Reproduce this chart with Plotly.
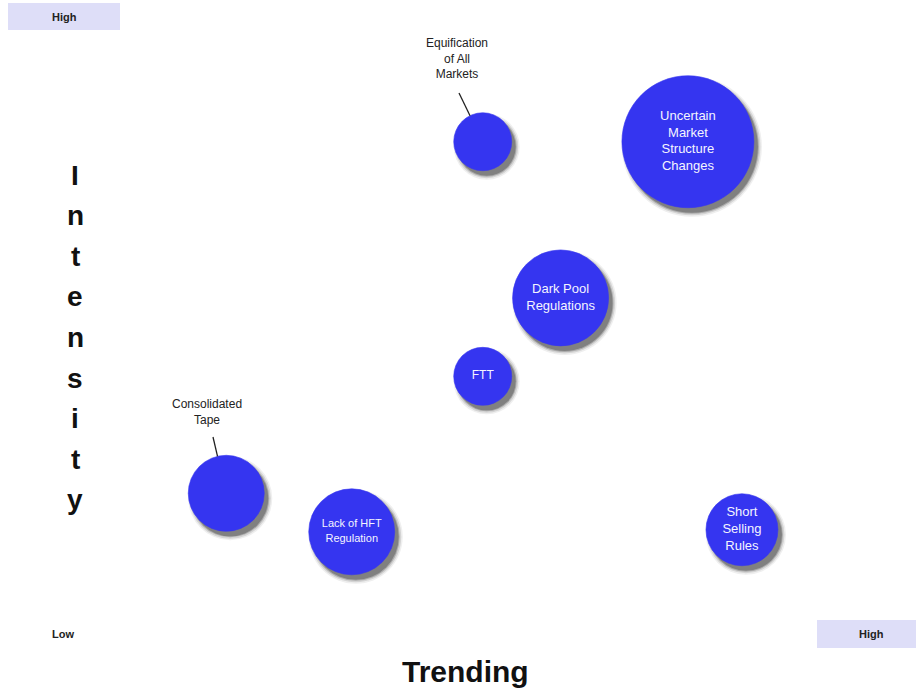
import math
import plotly.graph_objects as go

W, H = 916, 688

# Issues plotted by how much they are trending (x) and their intensity (y), 0-100 scale
topics = [
    "Equification of All Markets",
    "Uncertain Market Structure Changes",
    "Dark Pool Regulations",
    "FTT",
    "Consolidated Tape",
    "Lack of HFT Regulation",
    "Short Selling Rules",
]
trending = [52.7, 75.1, 61.2, 52.7, 24.7, 38.4, 81.0]
intensity = [79.4, 79.4, 56.7, 45.3, 28.3, 22.7, 23.0]
impact = [58, 132, 96, 58, 76, 86, 72]  # bubble diameter

inner_labels = [
    "",
    "Uncertain<br>Market<br>Structure<br>Changes",
    "Dark Pool<br>Regulations",
    "FTT",
    "",
    "Lack of HFT<br>Regulation",
    "Short<br>Selling<br>Rules",
]
inner_font = [13, 13, 13, 12, 13, 11, 13]

# Bubbles whose names sit outside, joined by a leader line
callouts = {
    0: "Equification<br>of All<br>Markets",
    4: "Consolidated<br>Tape",
}

BLUE = "#3535F0"
FONT = "Liberation Sans, Arial, sans-serif"


def px_to_x(px):
    return px / W * 100


def px_to_y(py):
    return (1 - py / H) * 100


def x_to_px(v):
    return v / 100 * W


def y_to_px(v):
    return (1 - v / 100) * H


fig = go.Figure()

# soft drop shadow: stacked translucent grey discs offset down-right
dx, dy = 4, 5
for grow, op in [(8, 0.08), (5, 0.14), (2, 0.25), (0, 0.35)]:
    fig.add_trace(go.Scatter(
        x=[px_to_x(x_to_px(t) + dx) for t in trending],
        y=[px_to_y(y_to_px(v) + dy) for v in intensity],
        mode="markers",
        marker=dict(size=[s + grow for s in impact], sizemode="diameter",
                    color="#303030", opacity=op, line=dict(width=0)),
        hoverinfo="skip", showlegend=False,
    ))

fig.add_trace(go.Scatter(
    x=trending, y=intensity,
    mode="markers+text",
    marker=dict(size=impact, sizemode="diameter", color=BLUE, opacity=1,
                line=dict(width=1, color="rgba(53,53,240,0.6)")),
    text=inner_labels,
    textposition="middle center",
    textfont=dict(family=FONT, size=inner_font, color="#f4f4ff"),
    hovertext=topics, hoverinfo="text",
    showlegend=False,
))

shapes = []
annotations = []


def label(x, y, text, size, ref="paper", color="#222222"):
    annotations.append(dict(x=x, y=y, xref=ref, yref=ref, text=text,
                            showarrow=False, xanchor="center", yanchor="middle",
                            font=dict(family=FONT, size=size, color=color)))


# leader lines and outside labels
label_pos = {0: (457, 58, 459, 93), 4: (207, 412, 213, 437)}
for i, text in callouts.items():
    lx, ly, sx, sy = label_pos[i]
    cx, cy = x_to_px(trending[i]), y_to_px(intensity[i])
    r = impact[i] / 2
    vx, vy = sx - cx, sy - cy
    d = math.hypot(vx, vy)
    ex, ey = cx + vx / d * r, cy + vy / d * r
    shapes.append(dict(type="line", xref="x", yref="y",
                       x0=px_to_x(sx), y0=px_to_y(sy),
                       x1=px_to_x(ex), y1=px_to_y(ey),
                       line=dict(color="#222222", width=1.3)))
    label(px_to_x(lx), px_to_y(ly), text, 12, ref="x")
    annotations[-1]["yref"] = "y"

# corner scale markers
for (x0, y0, x1, y1) in [(8, 3, 120, 30), (817, 620, 916, 648)]:
    shapes.append(dict(type="rect", xref="paper", yref="paper",
                       x0=x0 / W, x1=x1 / W, y0=1 - y1 / H, y1=1 - y0 / H,
                       fillcolor="#DEDEF8", line=dict(width=0), layer="below"))
for text, px, py in [("High", 64, 17), ("High", 871, 634), ("Low", 63, 634)]:
    label(px / W, 1 - py / H, f"<b>{text}</b>", 11)

# axis titles
label(465 / W, 1 - 671 / H, "<b>Trending</b>", 30, color="#111111")
for k, ch in enumerate("Intensity"):
    label(75 / W, 1 - (175 + k * 40.6) / H, f"<b>{ch}</b>", 28, color="#111111")

fig.update_layout(
    width=W, height=H,
    margin=dict(l=0, r=0, t=0, b=0),
    paper_bgcolor="white", plot_bgcolor="white",
    xaxis=dict(range=[0, 100], visible=False, fixedrange=True),
    yaxis=dict(range=[0, 100], visible=False, fixedrange=True),
    shapes=shapes, annotations=annotations,
    showlegend=False,
)

fig.write_html("out.html")
